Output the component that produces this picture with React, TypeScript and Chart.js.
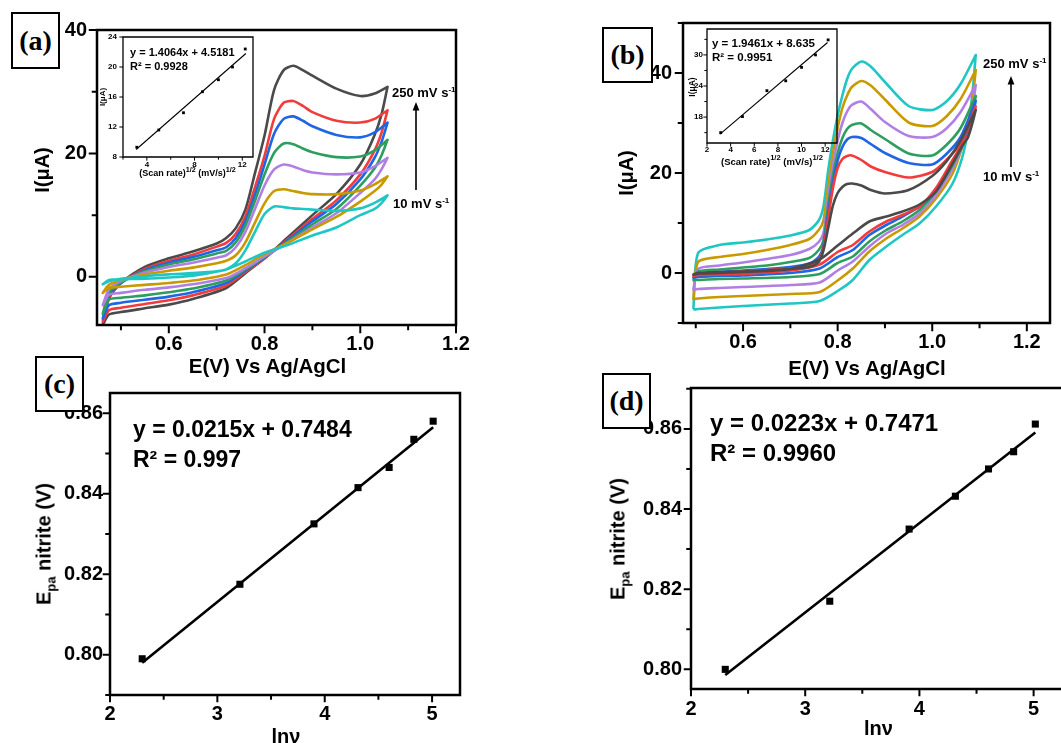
import React, { useEffect, useRef } from 'react';
import { Chart, registerables } from 'chart.js';

Chart.register(...registerables);

const SANS = '"Liberation Sans", Arial, Helvetica, sans-serif';
const SERIF = '"Liberation Serif", "Times New Roman", Times, serif';

const COL_BLACK = '#4a4a4a';
const COL_RED = '#f23b3b';
const COL_BLUE = '#1e66e4';
const COL_GREEN = '#2e9e5f';
const COL_PURPLE = '#b17fe4';
const COL_GOLD = '#c89a00';
const COL_CYAN = '#1fc6c4';

// ---------------- Panel (a): CV loops ----------------
const A_FWD_E = [0.462, 0.475, 0.5, 0.55, 0.6, 0.65, 0.7, 0.72, 0.74, 0.76, 0.78, 0.8, 0.82, 0.84, 0.86, 0.88, 0.9, 0.95, 1.0, 1.03, 1.057];
const A_REV_E = [1.057, 1.045, 1.03, 1.0, 0.95, 0.9, 0.85, 0.8, 0.76, 0.72, 0.65, 0.6, 0.55, 0.5, 0.475, 0.462];

const A_BLACK_FWD = [-7.8, -3.5, -1.0, 1.6, 3.0, 4.1, 5.4, 6.3, 7.9, 10.9, 16.8, 22.9, 30.3, 33.5, 34.2, 33.5, 32.6, 30.5, 29.3, 29.7, 30.8];
const A_RED_FWD = [-7.3, -3.3, -1.0, 1.3, 2.6, 3.6, 4.9, 5.5, 7.0, 9.8, 14.5, 19.6, 25.6, 28.2, 28.5, 27.7, 26.7, 25.3, 25.0, 25.6, 27.0];
const A_BLUE_FWD = [-6.8, -3.0, -1.0, 1.1, 2.3, 3.2, 4.3, 4.8, 6.3, 9.0, 13.3, 18.2, 23.2, 25.6, 26.0, 25.3, 24.4, 23.0, 22.6, 23.4, 25.0];
const A_GREEN_FWD = [-6.0, -2.6, -0.9, 0.9, 2.0, 2.8, 3.8, 4.2, 5.6, 8.3, 12.3, 16.6, 20.1, 21.6, 21.5, 20.8, 20.2, 19.4, 19.5, 20.5, 22.2];
const A_PURPLE_FWD = [-4.6, -2.0, -0.7, 0.7, 1.6, 2.3, 3.1, 3.5, 4.8, 7.3, 11.0, 14.8, 17.4, 18.2, 17.9, 17.3, 16.9, 16.6, 16.9, 17.9, 19.3];
const A_GOLD_FWD = [-2.6, -1.3, -0.5, 0.4, 1.0, 1.5, 2.2, 2.6, 3.5, 5.6, 8.8, 11.9, 13.9, 14.2, 13.9, 13.6, 13.4, 13.4, 14.0, 15.0, 16.3];
const A_CYAN_FWD = [-1.2, -0.7, -0.3, 0.1, 0.4, 0.6, 0.9, 1.2, 2.2, 4.3, 7.3, 10.2, 11.4, 11.3, 11.1, 11.0, 10.9, 10.7, 11.1, 12.0, 13.2];

const A_BLACK_REV = [30.8, 26.5, 23.0, 18.2, 13.4, 10.0, 6.5, 3.0, 0.6, -1.8, -3.6, -4.5, -5.1, -5.7, -6.1, -7.8];
const A_RED_REV = [27.0, 23.5, 20.5, 16.6, 12.4, 9.4, 6.2, 3.0, 0.8, -1.4, -3.0, -3.8, -4.4, -5.0, -5.4, -7.3];
const A_BLUE_REV = [25.0, 22.0, 19.3, 15.8, 11.8, 9.0, 6.0, 3.1, 1.0, -1.0, -2.5, -3.2, -3.7, -4.2, -4.6, -6.8];
const A_GREEN_REV = [22.2, 19.8, 17.6, 14.8, 11.0, 8.5, 5.8, 3.2, 1.2, -0.6, -1.9, -2.5, -3.0, -3.4, -3.7, -6.0];
const A_PURPLE_REV = [19.3, 17.5, 15.8, 13.6, 10.3, 8.0, 5.6, 3.3, 1.4, -0.2, -1.2, -1.7, -2.1, -2.6, -2.9, -4.6];
const A_GOLD_REV = [16.3, 15.0, 13.9, 12.2, 9.7, 7.7, 5.6, 3.7, 1.9, 0.4, -0.6, -1.0, -1.3, -1.6, -1.8, -2.6];
const A_CYAN_REV = [13.2, 12.0, 11.0, 10.0, 8.0, 6.7, 5.2, 3.9, 2.5, 1.2, 0.2, -0.1, -0.3, -0.4, -0.5, -1.2];

// ---------------- Panel (b): CV loops ----------------
const B_FWD_E = [0.495, 0.505, 0.55, 0.6, 0.65, 0.7, 0.74, 0.76, 0.77, 0.78, 0.79, 0.8, 0.81, 0.82, 0.83, 0.85, 0.87, 0.9, 0.95, 1.0, 1.03, 1.06, 1.092];
const B_REV_E = [1.092, 1.085, 1.075, 1.064, 1.043, 1.008, 0.973, 0.937, 0.903, 0.867, 0.832, 0.8, 0.762, 0.7, 0.6, 0.55, 0.505, 0.497];

const B_CYAN_FWD = [-7.0, 4.0, 5.6, 6.1, 6.7, 7.5, 8.6, 10.5, 13.3, 20.5, 26.5, 31.5, 35.5, 38.8, 40.8, 42.3, 41.3, 38.2, 33.4, 32.6, 34.3, 37.8, 43.6];
const B_GOLD_FWD = [-5.2, 2.2, 3.2, 3.8, 4.6, 5.6, 6.8, 8.6, 10.5, 17.5, 24.0, 29.0, 33.0, 35.5, 37.2, 38.4, 37.5, 34.7, 30.1, 29.4, 31.3, 34.8, 40.6];
const B_PURPLE_FWD = [-3.3, 0.8, 1.5, 2.1, 2.8, 3.6, 4.8, 6.2, 8.0, 15.0, 21.5, 26.5, 30.0, 32.3, 33.6, 34.3, 32.8, 30.2, 27.4, 27.2, 28.9, 32.2, 37.6];
const B_GREEN_FWD = [-1.4, 0.3, 0.7, 1.1, 1.5, 2.2, 3.0, 4.6, 6.5, 13.5, 19.5, 24.0, 27.0, 28.8, 29.6, 29.9, 28.6, 26.8, 23.9, 23.5, 25.6, 29.0, 35.4];
const B_BLUE_FWD = [-0.9, -0.2, 0.2, 0.5, 0.8, 1.2, 1.9, 3.2, 5.5, 12.0, 18.0, 22.5, 25.2, 26.7, 27.2, 27.0, 25.8, 24.0, 22.0, 21.7, 23.8, 27.2, 34.4];
const B_RED_FWD = [-0.6, -0.2, 0.1, 0.3, 0.6, 0.9, 1.5, 2.6, 5.0, 11.0, 17.0, 21.0, 22.8, 23.4, 23.5, 22.6, 21.3, 20.2, 19.1, 20.2, 22.6, 26.0, 33.3];
const B_BLACK_FWD = [-0.3, 0.0, 0.2, 0.3, 0.5, 0.8, 1.2, 2.2, 4.5, 9.0, 13.5, 16.0, 17.2, 17.8, 17.9, 17.5, 16.6, 15.9, 16.6, 19.4, 22.3, 26.5, 32.6];

const B_CYAN_REV = [43.6, 36.0, 28.5, 23.3, 17.9, 13.3, 9.9, 7.6, 5.3, 2.6, -1.4, -3.6, -5.6, -6.1, -6.6, -6.9, -7.2, -7.3];
const B_GOLD_REV = [40.6, 34.6, 29.3, 25.4, 19.9, 14.9, 11.3, 8.9, 6.9, 4.3, 0.9, -1.5, -3.8, -4.2, -4.6, -4.8, -5.1, -5.2];
const B_PURPLE_REV = [37.6, 33.0, 28.3, 25.4, 20.9, 15.6, 11.9, 9.6, 7.9, 5.3, 2.3, 0.5, -1.9, -2.4, -2.8, -3.0, -3.2, -3.3];
const B_GREEN_REV = [35.4, 31.8, 28.0, 25.5, 21.6, 16.3, 12.6, 10.3, 8.6, 6.3, 3.3, 2.0, -0.2, -0.8, -1.1, -1.2, -1.4, -1.4];
const B_BLUE_REV = [34.4, 31.4, 28.0, 25.8, 22.3, 16.7, 13.3, 11.3, 9.6, 7.6, 4.6, 3.2, 0.9, 0.0, -0.5, -0.6, -0.8, -0.9];
const B_RED_REV = [33.3, 30.5, 27.5, 25.8, 22.6, 17.0, 13.3, 11.6, 10.3, 8.3, 5.6, 4.2, 1.7, 0.5, -0.2, -0.3, -0.4, -0.6];
const B_BLACK_REV = [32.6, 30.0, 27.0, 25.5, 21.9, 16.3, 13.7, 12.3, 11.3, 10.3, 7.9, 5.5, 2.7, 0.8, 0.2, 0.0, -0.1, -0.3];

// ---------------- Insets: peak current vs sqrt(scan rate) ----------------
const INSET_A_X = [3.16, 5.0, 7.07, 8.66, 10.0, 11.18, 12.25];
const INSET_A_Y = [9.3, 11.6, 13.9, 16.7, 18.3, 20.0, 22.4];
const INSET_A_FIT_X = [3.1, 12.3];
const INSET_A_FIT_Y = [9.0, 21.8];

const INSET_B_X = [3.16, 5.0, 7.07, 8.66, 10.0, 11.18, 12.25];
const INSET_B_Y = [15.0, 18.1, 23.1, 25.0, 27.6, 30.0, 32.9];
const INSET_B_FIT_X = [3.1, 12.2];
const INSET_B_FIT_Y = [14.7, 32.4];

// ---------------- Panels (c), (d): Epa vs ln(v) ----------------
const C_X = [2.30, 3.21, 3.90, 4.31, 4.60, 4.83, 5.01];
const C_Y = [0.799, 0.8175, 0.8325, 0.8415, 0.8465, 0.8535, 0.858];
const C_FIT_X = [2.30, 5.01];
const C_FIT_Y = [0.798, 0.8565];

const D_X = [2.30, 3.215, 3.91, 4.315, 4.605, 4.825, 5.015];
const D_Y = [0.800, 0.817, 0.835, 0.8432, 0.850, 0.8543, 0.8612];
const D_FIT_X = [2.30, 5.015];
const D_FIT_Y = [0.7986, 0.8591];

type Pt = { x: number; y: number };
const pts = (xs: number[], ys: number[]): Pt[] => xs.map((x, i) => ({ x, y: ys[i] }));
const loop = (fe: number[], fi: number[], re: number[], ri: number[]): Pt[] => [...pts(fe, fi), ...pts(re, ri)];

const cvSet = (data: Pt[], color: string) => ({
  data,
  showLine: true,
  borderColor: color,
  backgroundColor: color,
  borderWidth: 2.6,
  pointRadius: 0,
  tension: 0.25,
  fill: false,
  borderJoinStyle: 'round',
  borderCapStyle: 'round',
});
const markerSet = (data: Pt[], r: number) => ({
  data,
  showLine: false,
  pointStyle: 'rect',
  pointRadius: r,
  backgroundColor: '#000',
  borderColor: '#000',
  borderWidth: 0,
});
const fitSet = (data: Pt[], w: number) => ({
  data,
  showLine: true,
  borderColor: '#000',
  borderWidth: w,
  pointRadius: 0,
  tension: 0,
  fill: false,
});

type AxisSpec = { min: number; max: number; step: number; isMajor: (v: number) => boolean; fmt: (v: number) => string; pad: number };
type PanelSpec = {
  w: number; h: number;
  area: { l: number; t: number; r: number; b: number };
  x: AxisSpec; y: AxisSpec;
  font: number; fontLH: number;
  tl: number; tlMinor: number; tw: number; lw: number;
  openRight?: boolean;
  datasets: any[];
};

function makeConfig(p: PanelSpec) {
  const framePlugin = {
    id: 'frameTicks',
    afterDatasetsDraw(chart: any) {
      const { ctx, chartArea: a, scales } = chart;
      ctx.save();
      ctx.strokeStyle = '#000';
      ctx.lineWidth = p.tw;
      ctx.beginPath();
      scales.x.ticks.forEach((t: any) => {
        const px = scales.x.getPixelForValue(t.value);
        const len = p.x.isMajor(t.value) ? p.tl : p.tlMinor;
        ctx.moveTo(px, a.bottom);
        ctx.lineTo(px, a.bottom + p.lw / 2 + len);
      });
      scales.y.ticks.forEach((t: any) => {
        const py = scales.y.getPixelForValue(t.value);
        const len = p.y.isMajor(t.value) ? p.tl : p.tlMinor;
        ctx.moveTo(a.left, py);
        ctx.lineTo(a.left - p.lw / 2 - len, py);
      });
      ctx.stroke();
      ctx.lineWidth = p.lw;
      ctx.lineJoin = 'miter';
      ctx.beginPath();
      if (p.openRight) {
        ctx.moveTo(a.right + 6, a.top);
        ctx.lineTo(a.left, a.top);
        ctx.lineTo(a.left, a.bottom);
        ctx.lineTo(a.right + 6, a.bottom);
      } else {
        ctx.rect(a.left, a.top, a.right - a.left, a.bottom - a.top);
      }
      ctx.stroke();
      ctx.restore();
    },
  };
  const tickFont = { family: SANS, size: p.font, weight: 'bold' as const, lineHeight: p.fontLH };
  const grid = { display: true, drawOnChartArea: false, drawTicks: true, tickLength: p.tl, tickColor: 'rgba(0,0,0,0)' };
  return {
    type: 'scatter',
    data: { datasets: p.datasets },
    options: {
      animation: false,
      responsive: false,
      maintainAspectRatio: false,
      events: [],
      layout: { padding: { left: 0, top: p.area.t, right: p.w - p.area.r, bottom: 0 } },
      plugins: { legend: { display: false }, tooltip: { enabled: false }, title: { display: false } },
      scales: {
        x: {
          type: 'linear', position: 'bottom', min: p.x.min, max: p.x.max,
          grid, border: { display: false },
          ticks: {
            stepSize: p.x.step, includeBounds: false, autoSkip: false, maxRotation: 0, minRotation: 0,
            padding: p.x.pad, color: '#000', font: tickFont,
            callback: (v: any) => (p.x.isMajor(Number(v)) ? p.x.fmt(Number(v)) : ''),
          },
          afterFit: (s: any) => { s.height = p.h - p.area.b; s.paddingLeft = 0; s.paddingRight = 0; },
        },
        y: {
          type: 'linear', position: 'left', min: p.y.min, max: p.y.max,
          grid, border: { display: false },
          ticks: {
            stepSize: p.y.step, includeBounds: false, autoSkip: false,
            padding: p.y.pad, color: '#000', font: tickFont,
            callback: (v: any) => (p.y.isMajor(Number(v)) ? p.y.fmt(Number(v)) : ''),
          },
          afterFit: (s: any) => { s.width = p.area.l; s.paddingTop = 0; s.paddingBottom = 0; },
        },
      },
    },
    plugins: [framePlugin],
  };
}

function ChartCanvas({ left, top, spec }: { left: number; top: number; spec: PanelSpec }) {
  const ref = useRef<HTMLCanvasElement | null>(null);
  useEffect(() => {
    const chart = new Chart(ref.current as HTMLCanvasElement, makeConfig(spec) as any);
    return () => chart.destroy();
  }, []);
  return (
    <canvas ref={ref} width={spec.w} height={spec.h}
      style={{ position: 'absolute', left, top, width: spec.w, height: spec.h }} />
  );
}

const evenTenth = (v: number) => Math.round(v * 10) % 2 === 0;
const evenTen = (v: number) => Math.round(v / 10) % 2 === 0;
const isInt = (v: number) => Math.abs(v - Math.round(v)) < 1e-6;
const evenHundredth = (v: number) => Math.round(v * 100) % 2 === 0;

const specA: PanelSpec = {
  w: 480, h: 390, area: { l: 97, t: 30, r: 456, b: 325 },
  x: { min: 0.45, max: 1.2, step: 0.1, isMajor: evenTenth, fmt: (v) => v.toFixed(1), pad: 0 },
  y: { min: -7.8, max: 40, step: 10, isMajor: evenTen, fmt: (v) => String(Math.round(v)), pad: 3 },
  font: 20, fontLH: 1.2, tl: 7, tlMinor: 4, tw: 2, lw: 2.5,
  datasets: [
    cvSet(loop(A_FWD_E, A_CYAN_FWD, A_REV_E, A_CYAN_REV), COL_CYAN),
    cvSet(loop(A_FWD_E, A_GOLD_FWD, A_REV_E, A_GOLD_REV), COL_GOLD),
    cvSet(loop(A_FWD_E, A_PURPLE_FWD, A_REV_E, A_PURPLE_REV), COL_PURPLE),
    cvSet(loop(A_FWD_E, A_GREEN_FWD, A_REV_E, A_GREEN_REV), COL_GREEN),
    cvSet(loop(A_FWD_E, A_BLUE_FWD, A_REV_E, A_BLUE_REV), COL_BLUE),
    cvSet(loop(A_FWD_E, A_RED_FWD, A_REV_E, A_RED_REV), COL_RED),
    cvSet(loop(A_FWD_E, A_BLACK_FWD, A_REV_E, A_BLACK_REV), COL_BLACK),
  ],
};

const specAIn: PanelSpec = {
  w: 165, h: 145, area: { l: 28, t: 7, r: 158, b: 127 },
  x: { min: 2, max: 12.9, step: 2, isMajor: (v) => Math.round(v) % 4 === 0, fmt: (v) => String(Math.round(v)), pad: 1 },
  y: { min: 8, max: 24, step: 4, isMajor: () => true, fmt: (v) => String(Math.round(v)), pad: 3 },
  font: 8, fontLH: 1, tl: 3, tlMinor: 2, tw: 1, lw: 1.3,
  datasets: [
    markerSet(pts(INSET_A_X, INSET_A_Y), 2),
    fitSet(pts(INSET_A_FIT_X, INSET_A_FIT_Y), 1.1),
  ],
};

const specB: PanelSpec = {
  w: 501, h: 390, area: { l: 123, t: 23, r: 490, b: 323 },
  x: { min: 0.473, max: 1.249, step: 0.1, isMajor: evenTenth, fmt: (v) => v.toFixed(1), pad: 0 },
  y: { min: -10, max: 50, step: 10, isMajor: evenTen, fmt: (v) => String(Math.round(v)), pad: 4 },
  font: 20, fontLH: 1.2, tl: 7, tlMinor: 4, tw: 2, lw: 2.5,
  datasets: [
    cvSet(loop(B_FWD_E, B_BLACK_FWD, B_REV_E, B_BLACK_REV), COL_BLACK),
    cvSet(loop(B_FWD_E, B_RED_FWD, B_REV_E, B_RED_REV), COL_RED),
    cvSet(loop(B_FWD_E, B_BLUE_FWD, B_REV_E, B_BLUE_REV), COL_BLUE),
    cvSet(loop(B_FWD_E, B_GREEN_FWD, B_REV_E, B_GREEN_REV), COL_GREEN),
    cvSet(loop(B_FWD_E, B_PURPLE_FWD, B_REV_E, B_PURPLE_REV), COL_PURPLE),
    cvSet(loop(B_FWD_E, B_GOLD_FWD, B_REV_E, B_GOLD_REV), COL_GOLD),
    cvSet(loop(B_FWD_E, B_CYAN_FWD, B_REV_E, B_CYAN_REV), COL_CYAN),
  ],
};

const specBIn: PanelSpec = {
  w: 170, h: 140, area: { l: 27, t: 9, r: 157, b: 123 },
  x: { min: 2, max: 13, step: 2, isMajor: () => true, fmt: (v) => String(Math.round(v)), pad: 0 },
  y: { min: 13, max: 35, step: 3, isMajor: (v) => Math.round(v) % 6 === 0, fmt: (v) => String(Math.round(v)), pad: 1 },
  font: 8, fontLH: 1, tl: 3, tlMinor: 2, tw: 1, lw: 1.3,
  datasets: [
    markerSet(pts(INSET_B_X, INSET_B_Y), 2),
    fitSet(pts(INSET_B_FIT_X, INSET_B_FIT_Y), 1.1),
  ],
};

const specC: PanelSpec = {
  w: 480, h: 363, area: { l: 110, t: 13, r: 460, b: 315 },
  x: { min: 2, max: 5.26, step: 0.5, isMajor: isInt, fmt: (v) => String(Math.round(v)), pad: 1.5 },
  y: { min: 0.790, max: 0.865, step: 0.01, isMajor: evenHundredth, fmt: (v) => v.toFixed(2), pad: 1 },
  font: 20, fontLH: 1.2, tl: 6, tlMinor: 3.5, tw: 2, lw: 2.5,
  datasets: [
    markerSet(pts(C_X, C_Y), 5),
    fitSet(pts(C_FIT_X, C_FIT_Y), 2.6),
  ],
};

const specD: PanelSpec = {
  w: 501, h: 363, area: { l: 131, t: 8, r: 501, b: 309 },
  x: { min: 2, max: 5.196, step: 0.5, isMajor: isInt, fmt: (v) => String(Math.round(v)), pad: 2.5 },
  y: { min: 0.7951, max: 0.8702, step: 0.01, isMajor: evenHundredth, fmt: (v) => v.toFixed(2), pad: 3 },
  font: 20, fontLH: 1.2, tl: 6, tlMinor: 3.5, tw: 2, lw: 2.5, openRight: true,
  datasets: [
    markerSet(pts(D_X, D_Y), 5),
    fitSet(pts(D_FIT_X, D_FIT_Y), 2.6),
  ],
};

// ---------------- HTML text helpers ----------------
function Txt({ x, y, size, children, align = 'left', rot = false }: { x: number; y: number; size: number; children: React.ReactNode; align?: 'left' | 'center'; rot?: boolean }) {
  let tf = align === 'center' ? 'translate(-50%,-50%)' : 'translate(0,-50%)';
  if (rot) tf = 'translate(-50%,-50%) rotate(-90deg)';
  return (
    <div style={{ position: 'absolute', left: x, top: y, fontSize: size, lineHeight: `${size}px`, fontWeight: 700, fontFamily: SANS, whiteSpace: 'nowrap', color: '#000', transform: tf }}>
      {children}
    </div>
  );
}
const Sup = ({ children, s = 0.62 }: { children: React.ReactNode; s?: number }) => (
  <span style={{ fontSize: `${s}em`, position: 'relative', top: '-0.6em' }}>{children}</span>
);
const Sub = ({ children }: { children: React.ReactNode }) => (
  <span style={{ fontSize: '0.65em', position: 'relative', top: '0.35em' }}>{children}</span>
);
function LabelBox({ x, y, w, h, text }: { x: number; y: number; w: number; h: number; text: string }) {
  return (
    <div style={{ position: 'absolute', left: x, top: y, width: w, height: h, boxSizing: 'border-box', border: '2px solid #000', background: '#fff', display: 'flex', alignItems: 'center', justifyContent: 'center', fontFamily: SERIF, fontWeight: 700, fontSize: 28, lineHeight: '28px', color: '#000' }}>
      {text}
    </div>
  );
}
function Arrow({ x, yBottom, yTip }: { x: number; yBottom: number; yTip: number }) {
  const h = yBottom - yTip;
  return (
    <svg style={{ position: 'absolute', left: x - 6, top: yTip, overflow: 'visible' }} width={12} height={h}>
      <line x1={6} y1={h} x2={6} y2={6} stroke="#000" strokeWidth={1.6} />
      <polygon points="6,0 2.6,8.5 9.4,8.5" fill="#000" />
    </svg>
  );
}

export default function App() {
  return (
    <div style={{ position: 'absolute', left: 0, top: 0, width: 1061, height: 743, background: '#fff', overflow: 'hidden' }}>
      <ChartCanvas left={0} top={0} spec={specA} />
      <ChartCanvas left={95} top={30} spec={specAIn} />
      <ChartCanvas left={560} top={0} spec={specB} />
      <ChartCanvas left={680} top={20} spec={specBIn} />
      <ChartCanvas left={0} top={380} spec={specC} />
      <ChartCanvas left={560} top={380} spec={specD} />

      {/* panel (a) texts */}
      <Txt x={42} y={170} size={20} rot>I(μA)</Txt>
      <Txt x={267.5} y={366} size={20.5} align="center">E(V) Vs Ag/AgCl</Txt>
      <Txt x={392} y={93} size={13}>250 mV s<Sup>-1</Sup></Txt>
      <Txt x={393} y={204} size={13}>10 mV s<Sup>-1</Sup></Txt>
      <Arrow x={416} yBottom={190} yTip={102} />
      <Txt x={130} y={52} size={11}>y = 1.4064x + 4.5181</Txt>
      <Txt x={130} y={66} size={11}>R² = 0.9928</Txt>
      <Txt x={187.5} y={173} size={9} align="center">(Scan rate)<Sup s={0.8}>1/2</Sup> (mV/s)<Sup s={0.8}>1/2</Sup></Txt>
      <Txt x={103} y={97} size={8} rot>I(μA)</Txt>

      {/* panel (b) texts */}
      <Txt x={626} y={173} size={20} rot>I(μA)</Txt>
      <Txt x={867} y={367.5} size={20.5} align="center">E(V) Vs Ag/AgCl</Txt>
      <Txt x={983} y={64} size={13}>250 mV s<Sup>-1</Sup></Txt>
      <Txt x={983} y={177} size={13}>10 mV s<Sup>-1</Sup></Txt>
      <Arrow x={1011} yBottom={167} yTip={76} />
      <Txt x={712} y={44} size={11.5}>y = 1.9461x + 8.635</Txt>
      <Txt x={712} y={58} size={11.5}>R² = 0.9951</Txt>
      <Txt x={772} y={161.5} size={9.5} align="center">(Scan rate)<Sup s={0.8}>1/2</Sup> (mV/s)<Sup s={0.8}>1/2</Sup></Txt>
      <Txt x={692} y={87} size={8.5} rot>I(μA)</Txt>

      {/* panel (c) texts */}
      <Txt x={44.5} y={543.5} size={20} rot>E<Sub>pa</Sub> nitrite (V)</Txt>
      <Txt x={286} y={736} size={20} align="center">ln{'\u03BD'}</Txt>
      <Txt x={133} y={428.7} size={23}>y = 0.0215x + 0.7484</Txt>
      <Txt x={133} y={458.5} size={23}>R² = 0.997</Txt>

      {/* panel (d) texts */}
      <Txt x={619} y={539} size={20} rot>E<Sub>pa</Sub> nitrite (V)</Txt>
      <Txt x={878.5} y={728} size={20} align="center">ln{'\u03BD'}</Txt>
      <Txt x={710} y={423} size={24}>y = 0.0223x + 0.7471</Txt>
      <Txt x={710} y={453} size={24}>R² = 0.9960</Txt>

      <LabelBox x={11} y={12} w={49} h={57} text="(a)" />
      <LabelBox x={602} y={27} w={51} h={56} text="(b)" />
      <LabelBox x={35} y={356} w={49} h={56} text="(c)" />
      <LabelBox x={602} y={373} w={49} h={56} text="(d)" />
    </div>
  );
}
